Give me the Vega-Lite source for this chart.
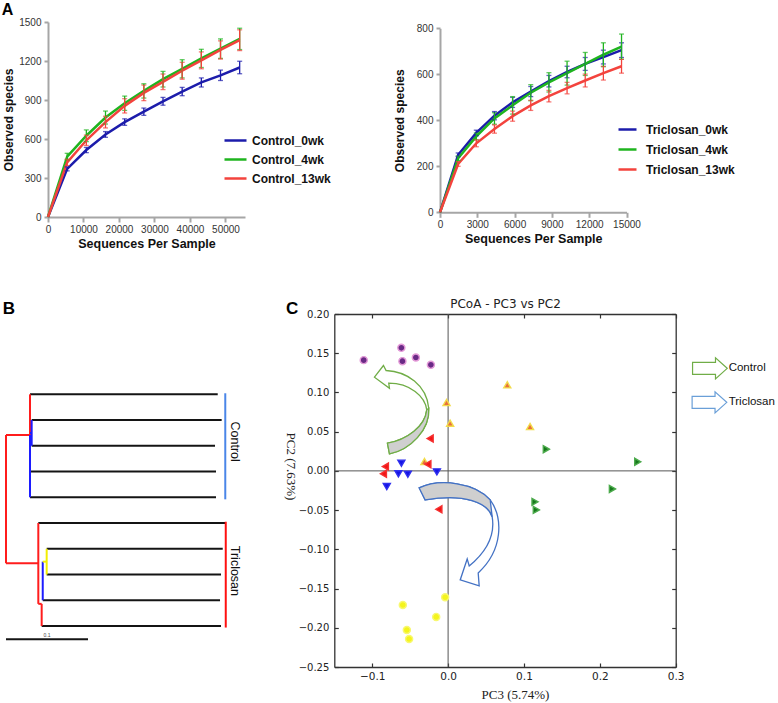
{
  "$schema": "https://vega.github.io/schema/vega-lite/v6.json",
  "width": 778,
  "height": 703,
  "autosize": "none",
  "padding": 0,
  "background": "white",
  "config": {
    "view": {"stroke": null},
    "font": "Liberation Sans",
    "axis": {"grid": false, "labelFlush": false, "labelOverlap": false}
  },
  "datasets": {
    "ctrl": [
      {"g": "Control_0wk", "seq": 0, "obs": 0, "lo": 0, "hi": 0},
      {"g": "Control_0wk", "seq": 5400, "obs": 370, "lo": 355, "hi": 385},
      {"g": "Control_0wk", "seq": 10800, "obs": 515, "lo": 495, "hi": 535},
      {"g": "Control_0wk", "seq": 16200, "obs": 635, "lo": 613, "hi": 657},
      {"g": "Control_0wk", "seq": 21600, "obs": 730, "lo": 705, "hi": 755},
      {"g": "Control_0wk", "seq": 27000, "obs": 810, "lo": 782, "hi": 838},
      {"g": "Control_0wk", "seq": 32400, "obs": 890, "lo": 860, "hi": 920},
      {"g": "Control_0wk", "seq": 37800, "obs": 965, "lo": 933, "hi": 997},
      {"g": "Control_0wk", "seq": 43200, "obs": 1035, "lo": 1000, "hi": 1070},
      {"g": "Control_0wk", "seq": 48600, "obs": 1090, "lo": 1050, "hi": 1130},
      {"g": "Control_0wk", "seq": 54000, "obs": 1150, "lo": 1102, "hi": 1198},
      {"g": "Control_4wk", "seq": 0, "obs": 0, "lo": 0, "hi": 0},
      {"g": "Control_4wk", "seq": 5400, "obs": 465, "lo": 440, "hi": 490},
      {"g": "Control_4wk", "seq": 10800, "obs": 625, "lo": 580, "hi": 670},
      {"g": "Control_4wk", "seq": 16200, "obs": 765, "lo": 715, "hi": 815},
      {"g": "Control_4wk", "seq": 21600, "obs": 875, "lo": 820, "hi": 930},
      {"g": "Control_4wk", "seq": 27000, "obs": 970, "lo": 915, "hi": 1025},
      {"g": "Control_4wk", "seq": 32400, "obs": 1060, "lo": 1000, "hi": 1120},
      {"g": "Control_4wk", "seq": 37800, "obs": 1140, "lo": 1070, "hi": 1210},
      {"g": "Control_4wk", "seq": 43200, "obs": 1220, "lo": 1150, "hi": 1290},
      {"g": "Control_4wk", "seq": 48600, "obs": 1295, "lo": 1220, "hi": 1370},
      {"g": "Control_4wk", "seq": 54000, "obs": 1370, "lo": 1288, "hi": 1452},
      {"g": "Control_13wk", "seq": 0, "obs": 0, "lo": 0, "hi": 0},
      {"g": "Control_13wk", "seq": 5400, "obs": 420, "lo": 395, "hi": 445},
      {"g": "Control_13wk", "seq": 10800, "obs": 590, "lo": 550, "hi": 630},
      {"g": "Control_13wk", "seq": 16200, "obs": 730, "lo": 685, "hi": 775},
      {"g": "Control_13wk", "seq": 21600, "obs": 855, "lo": 800, "hi": 910},
      {"g": "Control_13wk", "seq": 27000, "obs": 955, "lo": 895, "hi": 1015},
      {"g": "Control_13wk", "seq": 32400, "obs": 1040, "lo": 980, "hi": 1100},
      {"g": "Control_13wk", "seq": 37800, "obs": 1125, "lo": 1060, "hi": 1190},
      {"g": "Control_13wk", "seq": 43200, "obs": 1205, "lo": 1140, "hi": 1270},
      {"g": "Control_13wk", "seq": 48600, "obs": 1285, "lo": 1215, "hi": 1355},
      {"g": "Control_13wk", "seq": 54000, "obs": 1360, "lo": 1280, "hi": 1440}
    ],
    "tric": [
      {"g": "Triclosan_0wk", "seq": 0, "obs": 0, "lo": 0, "hi": 0},
      {"g": "Triclosan_0wk", "seq": 1460, "obs": 250, "lo": 242, "hi": 258},
      {"g": "Triclosan_0wk", "seq": 2920, "obs": 345, "lo": 333, "hi": 357},
      {"g": "Triclosan_0wk", "seq": 4380, "obs": 420, "lo": 402, "hi": 438},
      {"g": "Triclosan_0wk", "seq": 5840, "obs": 478, "lo": 456, "hi": 500},
      {"g": "Triclosan_0wk", "seq": 7300, "obs": 525, "lo": 503, "hi": 547},
      {"g": "Triclosan_0wk", "seq": 8760, "obs": 570, "lo": 545, "hi": 595},
      {"g": "Triclosan_0wk", "seq": 10220, "obs": 610, "lo": 585, "hi": 635},
      {"g": "Triclosan_0wk", "seq": 11680, "obs": 645, "lo": 617, "hi": 673},
      {"g": "Triclosan_0wk", "seq": 13140, "obs": 675, "lo": 645, "hi": 705},
      {"g": "Triclosan_0wk", "seq": 14600, "obs": 705, "lo": 673, "hi": 737},
      {"g": "Triclosan_4wk", "seq": 0, "obs": 0, "lo": 0, "hi": 0},
      {"g": "Triclosan_4wk", "seq": 1460, "obs": 235, "lo": 225, "hi": 245},
      {"g": "Triclosan_4wk", "seq": 2920, "obs": 330, "lo": 315, "hi": 345},
      {"g": "Triclosan_4wk", "seq": 4380, "obs": 408, "lo": 383, "hi": 433},
      {"g": "Triclosan_4wk", "seq": 5840, "obs": 465, "lo": 427, "hi": 503},
      {"g": "Triclosan_4wk", "seq": 7300, "obs": 520, "lo": 485, "hi": 555},
      {"g": "Triclosan_4wk", "seq": 8760, "obs": 565, "lo": 523, "hi": 607},
      {"g": "Triclosan_4wk", "seq": 10220, "obs": 605, "lo": 553, "hi": 657},
      {"g": "Triclosan_4wk", "seq": 11680, "obs": 645, "lo": 595, "hi": 695},
      {"g": "Triclosan_4wk", "seq": 13140, "obs": 685, "lo": 633, "hi": 737},
      {"g": "Triclosan_4wk", "seq": 14600, "obs": 720, "lo": 665, "hi": 775},
      {"g": "Triclosan_13wk", "seq": 0, "obs": 0, "lo": 0, "hi": 0},
      {"g": "Triclosan_13wk", "seq": 1460, "obs": 210, "lo": 200, "hi": 220},
      {"g": "Triclosan_13wk", "seq": 2920, "obs": 300, "lo": 285, "hi": 315},
      {"g": "Triclosan_13wk", "seq": 4380, "obs": 362, "lo": 344, "hi": 380},
      {"g": "Triclosan_13wk", "seq": 5840, "obs": 418, "lo": 396, "hi": 440},
      {"g": "Triclosan_13wk", "seq": 7300, "obs": 465, "lo": 443, "hi": 487},
      {"g": "Triclosan_13wk", "seq": 8760, "obs": 505, "lo": 480, "hi": 530},
      {"g": "Triclosan_13wk", "seq": 10220, "obs": 540, "lo": 515, "hi": 565},
      {"g": "Triclosan_13wk", "seq": 11680, "obs": 573, "lo": 545, "hi": 601},
      {"g": "Triclosan_13wk", "seq": 13140, "obs": 605, "lo": 575, "hi": 635},
      {"g": "Triclosan_13wk", "seq": 14600, "obs": 635, "lo": 605, "hi": 665}
    ],
    "tree": [
      {"part": "leaf", "x": 0.0293, "x2": 0.2582, "y": 1, "y2": 1},
      {"part": "leaf", "x": 0.0313, "x2": 0.263, "y": 2, "y2": 2},
      {"part": "leaf", "x": 0.0313, "x2": 0.2549, "y": 3, "y2": 3},
      {"part": "leaf", "x": 0.0293, "x2": 0.2561, "y": 4, "y2": 4},
      {"part": "leaf", "x": 0.0293, "x2": 0.2561, "y": 5, "y2": 5},
      {"part": "leaf", "x": 0.0394, "x2": 0.2671, "y": 6, "y2": 6},
      {"part": "leaf", "x": 0.0496, "x2": 0.2643, "y": 7, "y2": 7},
      {"part": "leaf", "x": 0.0496, "x2": 0.2622, "y": 8, "y2": 8},
      {"part": "leaf", "x": 0.0448, "x2": 0.261, "y": 9, "y2": 9},
      {"part": "leaf", "x": 0.0435, "x2": 0.2622, "y": 10, "y2": 10},
      {"part": "red", "x": 0, "x2": 0.0293, "y": 2.58, "y2": 2.58},
      {"part": "red", "x": 0, "x2": 0, "y": 2.58, "y2": 7.56},
      {"part": "red", "x": 0, "x2": 0.0394, "y": 7.56, "y2": 7.56},
      {"part": "red", "x": 0.0293, "x2": 0.0293, "y": 1, "y2": 2.58},
      {"part": "red", "x": 0.0394, "x2": 0.0394, "y": 6, "y2": 9.14},
      {"part": "red", "x": 0.0394, "x2": 0.0435, "y": 9.14, "y2": 9.14},
      {"part": "red", "x": 0.0435, "x2": 0.0435, "y": 9.14, "y2": 10},
      {"part": "blue", "x": 0.0293, "x2": 0.0293, "y": 2.58, "y2": 5},
      {"part": "blue", "x": 0.0313, "x2": 0.0313, "y": 2, "y2": 3},
      {"part": "blue", "x": 0.0293, "x2": 0.0313, "y": 2.5, "y2": 2.5},
      {"part": "blue", "x": 0.0448, "x2": 0.0448, "y": 7.5, "y2": 9},
      {"part": "yellow", "x": 0.0448, "x2": 0.0496, "y": 7.5, "y2": 7.5},
      {"part": "yellow", "x": 0.0496, "x2": 0.0496, "y": 7, "y2": 8},
      {"part": "ctrl", "x": 0.2674, "x2": 0.2674, "y": 0.96, "y2": 5.08},
      {"part": "tric", "x": 0.268, "x2": 0.268, "y": 5.95, "y2": 10.06},
      {"part": "scale", "x": 0, "x2": 0.1, "y": 10.51, "y2": 10.51}
    ],
    "pcoa": [
      {"grp": "Control_13wk", "pc3": -0.1112, "pc2": 0.1412},
      {"grp": "Control_13wk", "pc3": -0.0616, "pc2": 0.1569},
      {"grp": "Control_13wk", "pc3": -0.0602, "pc2": 0.1399},
      {"grp": "Control_13wk", "pc3": -0.0425, "pc2": 0.1445},
      {"grp": "Control_13wk", "pc3": -0.0227, "pc2": 0.1352},
      {"grp": "Control_4wk", "pc3": -0.0021, "pc2": 0.0871},
      {"grp": "Control_4wk", "pc3": 0.0027, "pc2": 0.0608},
      {"grp": "Control_4wk", "pc3": 0.078, "pc2": 0.1097},
      {"grp": "Control_4wk", "pc3": 0.108, "pc2": 0.0565},
      {"grp": "Control_4wk", "pc3": -0.0312, "pc2": 0.0119},
      {"grp": "Triclosan_0wk", "pc3": -0.0237, "pc2": 0.0412},
      {"grp": "Triclosan_0wk", "pc3": -0.0827, "pc2": 0.0055},
      {"grp": "Triclosan_0wk", "pc3": -0.0853, "pc2": -0.0038},
      {"grp": "Triclosan_0wk", "pc3": -0.0267, "pc2": 0.0085},
      {"grp": "Triclosan_0wk", "pc3": -0.0122, "pc2": -0.0489},
      {"grp": "Control_0wk", "pc3": -0.0616, "pc2": 0.0098},
      {"grp": "Control_0wk", "pc3": -0.0655, "pc2": -0.0038},
      {"grp": "Control_0wk", "pc3": -0.0531, "pc2": -0.0042},
      {"grp": "Control_0wk", "pc3": -0.0148, "pc2": -0.0013},
      {"grp": "Control_0wk", "pc3": -0.0808, "pc2": -0.02},
      {"grp": "Triclosan_4wk", "pc3": 0.1295, "pc2": 0.0277},
      {"grp": "Triclosan_4wk", "pc3": 0.25, "pc2": 0.0115},
      {"grp": "Triclosan_4wk", "pc3": 0.2166, "pc2": -0.023},
      {"grp": "Triclosan_4wk", "pc3": 0.1146, "pc2": -0.0395},
      {"grp": "Triclosan_4wk", "pc3": 0.1163, "pc2": -0.0497},
      {"grp": "Triclosan_13wk", "pc3": -0.0039, "pc2": -0.1611},
      {"grp": "Triclosan_13wk", "pc3": -0.0597, "pc2": -0.171},
      {"grp": "Triclosan_13wk", "pc3": -0.0157, "pc2": -0.1862},
      {"grp": "Triclosan_13wk", "pc3": -0.0544, "pc2": -0.2028},
      {"grp": "Triclosan_13wk", "pc3": -0.0514, "pc2": -0.2143}
    ]
  },
  "layer": [
    {
      "layer": [
        {
          "data": {"name": "ctrl"},
          "mark": {"type": "line", "strokeWidth": 2.5},
          "encoding": {
            "x": {"field": "seq", "type": "quantitative", "title": "Sequences Per Sample",
              "scale": {"domain": [0, 55500], "range": [48, 245], "nice": false, "zero": false},
              "axis": {"orient": "bottom", "offset": -486, "values": [0, 10000, 20000, 30000, 40000, 50000], "format": "d", "labelFontSize": 10, "labelColor": "#333", "labelPadding": 2, "tickSize": 5, "tickWidth": 2, "tickColor": "#a6a6a6", "domainColor": "#a6a6a6", "domainWidth": 2, "title": "Sequences Per Sample", "titleFontSize": 12.5, "titleFontWeight": "bold", "titleColor": "#111", "titlePadding": 3}},
            "y": {"field": "obs", "type": "quantitative", "title": "Observed species",
              "scale": {"domain": [0, 1500], "range": [217, 22], "nice": false, "zero": false},
              "axis": {"orient": "left", "offset": -48, "values": [0, 300, 600, 900, 1200, 1500], "format": "d", "labelFontSize": 10, "labelColor": "#333", "labelPadding": 3, "tickSize": 4, "tickWidth": 2, "tickColor": "#a6a6a6", "domainColor": "#a6a6a6", "domainWidth": 2, "title": "Observed species", "titleFontSize": 12, "titleFontWeight": "bold", "titleColor": "#111", "titlePadding": 3}},
            "color": {"field": "g", "type": "nominal",
              "scale": {"domain": ["Control_0wk", "Control_4wk", "Control_13wk"], "range": ["#1c1cab", "#1fb41f", "#f3433d"]},
              "legend": {"orient": "none", "legendX": 223, "legendY": 128, "title": null, "padding": 0, "symbolType": "stroke", "symbolSize": 484, "symbolStrokeWidth": 2.5, "labelFontSize": 12, "labelFontWeight": "bold", "labelColor": "#111", "labelOffset": 4, "rowPadding": -7}}
          }
        },
        {
          "data": {"name": "ctrl"},
          "transform": [{"filter": "datum.seq > 0"}],
          "mark": {"type": "errorbar", "ticks": {"size": 5}, "thickness": 1.3},
          "encoding": {
            "x": {"field": "seq", "type": "quantitative", "title": "Sequences Per Sample"},
            "y": {"field": "lo", "type": "quantitative", "title": "Observed species"},
            "y2": {"field": "hi"},
            "color": {"field": "g", "type": "nominal", "legend": null}
          }
        },
        {
          "data": {"values": [{}]},
          "mark": {"type": "text", "text": "A", "fontSize": 16, "fontWeight": "bold", "align": "left", "baseline": "middle", "color": "#000"},
          "encoding": {"x": {"datum": -13000, "type": "quantitative"}, "y": {"datum": 1590, "type": "quantitative"}}
        }
      ]
    },
    {
      "layer": [
        {
          "data": {"name": "tric"},
          "mark": {"type": "line", "strokeWidth": 2.5},
          "encoding": {
            "x": {"field": "seq", "type": "quantitative", "title": "Sequences Per Sample",
              "scale": {"domain": [0, 15000], "range": [440, 626.5], "nice": false, "zero": false},
              "axis": {"orient": "bottom", "offset": -490.7, "values": [0, 3000, 6000, 9000, 12000, 15000], "format": "d", "labelFontSize": 10, "labelColor": "#333", "labelPadding": 2, "tickSize": 5, "tickWidth": 2, "tickColor": "#a6a6a6", "domainColor": "#a6a6a6", "domainWidth": 2, "title": "Sequences Per Sample", "titleFontSize": 12.5, "titleFontWeight": "bold", "titleColor": "#111", "titlePadding": 3}},
            "y": {"field": "obs", "type": "quantitative", "title": "Observed species",
              "scale": {"domain": [0, 800], "range": [212.3, 28.3], "nice": false, "zero": false},
              "axis": {"orient": "left", "offset": -440, "values": [0, 200, 400, 600, 800], "format": "d", "labelFontSize": 10, "labelColor": "#333", "labelPadding": 3, "tickSize": 4, "tickWidth": 2, "tickColor": "#a6a6a6", "domainColor": "#a6a6a6", "domainWidth": 2, "title": "Observed species", "titleFontSize": 12, "titleFontWeight": "bold", "titleColor": "#111", "titlePadding": 10}},
            "color": {"field": "g", "type": "nominal",
              "scale": {"domain": ["Triclosan_0wk", "Triclosan_4wk", "Triclosan_13wk"], "range": ["#1c1cab", "#1fb41f", "#f3433d"]},
              "legend": {"orient": "none", "legendX": 617, "legendY": 119, "title": null, "padding": 0, "symbolType": "stroke", "symbolSize": 324, "symbolStrokeWidth": 2.5, "labelFontSize": 12, "labelFontWeight": "bold", "labelColor": "#111", "labelOffset": 8, "rowPadding": 3}}
          }
        },
        {
          "data": {"name": "tric"},
          "transform": [{"filter": "datum.seq > 0"}],
          "mark": {"type": "errorbar", "ticks": {"size": 5}, "thickness": 1.3},
          "encoding": {
            "x": {"field": "seq", "type": "quantitative", "title": "Sequences Per Sample"},
            "y": {"field": "lo", "type": "quantitative", "title": "Observed species"},
            "y2": {"field": "hi"},
            "color": {"field": "g", "type": "nominal", "legend": null}
          }
        }
      ]
    },
    {
      "layer": [
        {
          "data": {"name": "tree"},
          "mark": {"type": "rule", "strokeWidth": 2},
          "encoding": {
            "x": {"field": "x", "type": "quantitative", "scale": {"domain": [0, 0.3], "range": [6, 252], "nice": false, "zero": false}, "axis": null},
            "x2": {"field": "x2"},
            "y": {"field": "y", "type": "quantitative", "scale": {"domain": [1, 10], "range": [394.3, 626], "nice": false, "zero": false}, "axis": null},
            "y2": {"field": "y2"},
            "stroke": {"field": "part", "type": "nominal", "scale": {"domain": ["leaf", "red", "blue", "yellow", "ctrl", "tric", "scale"], "range": ["#141414", "#ff1c1c", "#1c1cff", "#f2ee00", "#4a86e8", "#ff1010", "#141414"]}, "legend": null}
          }
        },
        {
          "data": {"values": [{}]},
          "mark": {"type": "text", "text": "Control", "angle": 90, "fontSize": 12.5, "align": "center", "baseline": "middle", "color": "#111"},
          "encoding": {"x": {"datum": 0.279, "type": "quantitative"}, "y": {"datum": 2.84, "type": "quantitative"}}
        },
        {
          "data": {"values": [{}]},
          "mark": {"type": "text", "text": "Triclosan", "angle": 90, "fontSize": 12.5, "align": "center", "baseline": "middle", "color": "#111"},
          "encoding": {"x": {"datum": 0.279, "type": "quantitative"}, "y": {"datum": 7.86, "type": "quantitative"}}
        },
        {
          "data": {"values": [{}]},
          "mark": {"type": "text", "text": "0.1", "fontSize": 5, "align": "center", "baseline": "middle", "color": "#444"},
          "encoding": {"x": {"datum": 0.05, "type": "quantitative"}, "y": {"datum": 10.34, "type": "quantitative"}}
        },
        {
          "data": {"values": [{}]},
          "mark": {"type": "text", "text": "B", "fontSize": 17, "fontWeight": "bold", "align": "left", "baseline": "middle", "color": "#000"},
          "encoding": {"x": {"datum": -0.004, "type": "quantitative"}, "y": {"datum": -2.31, "type": "quantitative"}}
        }
      ]
    },
    {
      "data": {"values": [{}]},
      "layer": [
        {
          "mark": {"type": "rule", "color": "#555", "strokeWidth": 1},
          "encoding": {
            "x": {"datum": 0, "type": "quantitative", "scale": {"domain": [-0.15, 0.3], "range": [334.3, 675.7], "nice": false, "zero": false},
              "axis": {"orient": "top", "offset": -314, "values": [-0.1, 0, 0.1, 0.2, 0.3], "labels": false, "tickSize": -4, "tickColor": "#333", "tickWidth": 1.2, "domainColor": "#333", "domainWidth": 1.3, "title": "PCoA - PC3 vs PC2", "titleFont": "DejaVu Sans", "titleFontSize": 12, "titleFontWeight": "normal", "titleColor": "#222", "titleX": 505, "titleY": -11, "titleBaseline": "middle", "titleAlign": "center", "titleAngle": 0}},
            "y": {"datum": -0.25, "type": "quantitative", "scale": {"domain": [-0.25, 0.2], "range": [667, 314], "nice": false, "zero": false},
              "axis": {"orient": "right", "offset": -102.3, "values": [-0.25, -0.2, -0.15, -0.1, -0.05, 0, 0.05, 0.1, 0.15, 0.2], "labels": false, "tickSize": -4, "tickColor": "#333", "tickWidth": 1.2, "domainColor": "#333", "domainWidth": 1.3, "title": null}},
            "y2": {"datum": 0.2}
          }
        },
        {
          "mark": {"type": "rule", "color": "#555", "strokeWidth": 1},
          "encoding": {
            "x": {"datum": -0.15, "type": "quantitative",
              "axis": {"orient": "top", "offset": -314, "values": [-0.1, 0, 0.1, 0.2, 0.3], "labels": false, "tickSize": -4, "tickColor": "#333", "tickWidth": 1.2, "domainColor": "#333", "domainWidth": 1.3, "title": "PCoA - PC3 vs PC2", "titleFont": "DejaVu Sans", "titleFontSize": 12, "titleFontWeight": "normal", "titleColor": "#222", "titleX": 505, "titleY": -11, "titleBaseline": "middle", "titleAlign": "center", "titleAngle": 0}},
            "x2": {"datum": 0.3},
            "y": {"datum": 0, "type": "quantitative",
              "axis": {"orient": "right", "offset": -102.3, "values": [-0.25, -0.2, -0.15, -0.1, -0.05, 0, 0.05, 0.1, 0.15, 0.2], "labels": false, "tickSize": -4, "tickColor": "#333", "tickWidth": 1.2, "domainColor": "#333", "domainWidth": 1.3, "title": null}}
          }
        }
      ]
    },
    {
      "layer": [
        {
          "data": {"name": "pcoa"},
          "mark": {"type": "point", "filled": true, "size": 50, "strokeWidth": 1.4, "opacity": 1},
          "encoding": {
            "x": {"field": "pc3", "type": "quantitative", "scale": {"domain": [-0.15, 0.3], "range": [334.3, 675.7], "nice": false, "zero": false},
              "axis": {"orient": "bottom", "offset": -36, "values": [-0.1, 0, 0.1, 0.2, 0.3], "format": ".1f", "labelFont": "DejaVu Sans", "labelFontSize": 10.5, "labelColor": "#222", "labelPadding": 8, "tickSize": -4, "tickColor": "#333", "tickWidth": 1.2, "domainColor": "#333", "domainWidth": 1.3, "title": "PC3 (5.74%)", "titleFont": "Liberation Serif", "titleFontSize": 13, "titleFontWeight": "normal", "titleColor": "#222", "titleX": 515, "titleY": 27, "titleBaseline": "middle", "titleAlign": "center", "titleAngle": 0}},
            "y": {"field": "pc2", "type": "quantitative", "scale": {"domain": [-0.25, 0.2], "range": [667, 314], "nice": false, "zero": false},
              "axis": {"orient": "left", "offset": -334.3, "values": [-0.25, -0.2, -0.15, -0.1, -0.05, 0, 0.05, 0.1, 0.15, 0.2], "format": ".2f", "labelFont": "DejaVu Sans", "labelFontSize": 10, "labelColor": "#222", "labelPadding": 9.5, "tickSize": -4, "tickColor": "#333", "tickWidth": 1.2, "domainColor": "#333", "domainWidth": 1.3, "title": "PC2 (7.63%)", "titleFont": "Liberation Serif", "titleFontSize": 13, "titleFontWeight": "normal", "titleColor": "#222", "titleAngle": 90, "titleX": -44, "titleY": 466, "titleBaseline": "middle", "titleAlign": "center"}},
            "shape": {"field": "grp", "type": "nominal", "scale": {"domain": ["Control_0wk", "Control_4wk", "Control_13wk", "Triclosan_0wk", "Triclosan_4wk", "Triclosan_13wk"], "range": ["triangle-down", "triangle-up", "circle", "triangle-left", "triangle-right", "circle"]}, "legend": null},
            "fill": {"field": "grp", "type": "nominal", "scale": {"domain": ["Control_0wk", "Control_4wk", "Control_13wk", "Triclosan_0wk", "Triclosan_4wk", "Triclosan_13wk"], "range": ["#1414e6", "#e9703c", "#6a2a86", "#f21414", "#17781c", "#f4f41c"]}, "legend": null},
            "stroke": {"field": "grp", "type": "nominal", "scale": {"domain": ["Control_0wk", "Control_4wk", "Control_13wk", "Triclosan_0wk", "Triclosan_4wk", "Triclosan_13wk"], "range": ["#3030ee", "#f2dc4a", "#e49ad8", "#f53030", "#4caa4c", "#f8f870"]}, "legend": null}
          }
        },
        {
          "data": {"values": [{}]},
          "mark": {"type": "point", "shape": "M-0.513,-0.653 L-0.333,-0.887 L-0.28,-0.787 C0.133,-0.767 0.533,-0.5 0.573,-0.033 C0.6,0.4 0.2,0.8 -0.213,0.88 L-0.253,0.667 C0.133,0.6 0.5,0.333 0.533,0 C0.5,-0.267 0.2,-0.533 -0.227,-0.533 L-0.213,-0.433 Z", "size": 10000, "filled": true, "fill": "#ffffff", "stroke": "#70ad47", "strokeWidth": 1.3, "opacity": 1},
          "encoding": {"x": {"datum": -0.06327, "type": "quantitative"}, "y": {"datum": 0.07781, "type": "quantitative"}}
        },
        {
          "data": {"values": [{}]},
          "mark": {"type": "point", "shape": "M0.573,-0.033 C0.6,0.4 0.2,0.8 -0.213,0.88 L-0.253,0.667 C0.133,0.6 0.5,0.333 0.533,0 Z", "size": 10000, "filled": true, "fill": "#cfcfcf", "stroke": "#70ad47", "strokeWidth": 1.3, "opacity": 1},
          "encoding": {"x": {"datum": -0.06327, "type": "quantitative"}, "y": {"datum": 0.07781, "type": "quantitative"}}
        },
        {
          "data": {"values": [{}]},
          "mark": {"type": "point", "shape": "M-0.82,-0.84 C-0.4,-1.04 0.3,-0.94 0.6,-0.6 C0.86,-0.24 0.86,0.4 0.36,0.86 L0.38,1.12 L0,1 L0.14,0.58 L0.18,0.72 C0.52,0.44 0.7,0.1 0.64,-0.26 C0.56,-0.54 0.1,-0.74 -0.7,-0.6 Z", "size": 10000, "filled": true, "fill": "#ffffff", "stroke": "#4472c4", "strokeWidth": 1.3, "opacity": 1},
          "encoding": {"x": {"datum": 0.01594, "type": "quantitative"}, "y": {"datum": -0.07526, "type": "quantitative"}}
        },
        {
          "data": {"values": [{}]},
          "mark": {"type": "point", "shape": "M-0.82,-0.84 C-0.4,-1.04 0.3,-0.94 0.6,-0.6 L0.64,-0.26 C0.56,-0.54 0.1,-0.74 -0.7,-0.6 Z", "size": 10000, "filled": true, "fill": "#cfcfcf", "stroke": "#4472c4", "strokeWidth": 1.3, "opacity": 1},
          "encoding": {"x": {"datum": 0.01594, "type": "quantitative"}, "y": {"datum": -0.07526, "type": "quantitative"}}
        },
        {
          "data": {"values": [{}]},
          "mark": {"type": "point", "shape": "M-1,-0.34 L0.31,-0.34 L0.31,-0.6 L0.98,0 L0.31,0.6 L0.31,0.34 L-1,0.34 Z", "size": 1225, "filled": true, "fill": "#ffffff", "stroke": "#70ad47", "strokeWidth": 1.2, "opacity": 1},
          "encoding": {"x": {"datum": 0.3453, "type": "quantitative"}, "y": {"datum": 0.1307, "type": "quantitative"}}
        },
        {
          "data": {"values": [{}]},
          "mark": {"type": "point", "shape": "M-1,-0.34 L0.31,-0.34 L0.31,-0.6 L0.98,0 L0.31,0.6 L0.31,0.34 L-1,0.34 Z", "size": 1225, "filled": true, "fill": "#ffffff", "stroke": "#6a9fd8", "strokeWidth": 1.2, "opacity": 1},
          "encoding": {"x": {"datum": 0.3447, "type": "quantitative"}, "y": {"datum": 0.0874, "type": "quantitative"}}
        },
        {
          "data": {"values": [{}]},
          "mark": {"type": "text", "text": "Control", "fontSize": 11.5, "align": "left", "baseline": "middle", "color": "#111"},
          "encoding": {"x": {"datum": 0.3698, "type": "quantitative"}, "y": {"datum": 0.1307, "type": "quantitative"}}
        },
        {
          "data": {"values": [{}]},
          "mark": {"type": "text", "text": "Triclosan", "fontSize": 11.5, "align": "left", "baseline": "middle", "color": "#111"},
          "encoding": {"x": {"datum": 0.3698, "type": "quantitative"}, "y": {"datum": 0.0874, "type": "quantitative"}}
        },
        {
          "data": {"values": [{}]},
          "mark": {"type": "text", "text": "C", "fontSize": 17, "fontWeight": "bold", "align": "left", "baseline": "middle", "color": "#000"},
          "encoding": {"x": {"datum": -0.2137, "type": "quantitative"}, "y": {"datum": 0.2066, "type": "quantitative"}}
        }
      ]
    }
  ],
  "resolve": {"scale": {"x": "independent", "y": "independent", "color": "independent", "stroke": "independent", "fill": "independent", "shape": "independent"}}
}
